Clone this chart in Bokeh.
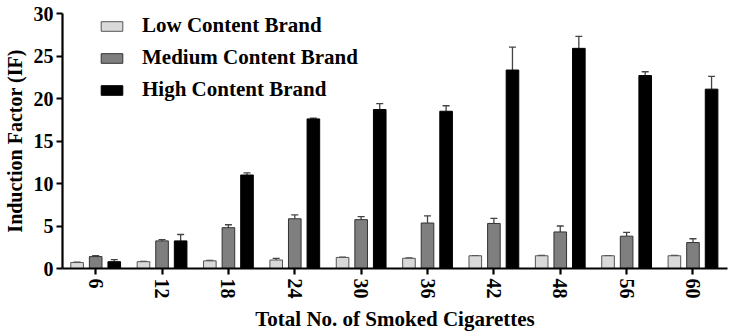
import numpy as np
from bokeh.plotting import figure
from bokeh.models import ColumnDataSource, Whisker, TeeHead, FixedTicker, Legend, LegendItem, Range1d
from bokeh.embed import file_html
from bokeh.resources import INLINE

categories = ["6", "12", "18", "24", "30", "36", "42", "48", "56", "60"]
low_vals = [0.7, 0.8, 0.9, 1.0, 1.3, 1.2, 1.5, 1.5, 1.5, 1.5]
low_err = [0.05, 0.05, 0.05, 0.2, 0.05, 0.05, 0.0, 0.05, 0.0, 0.05]
med_vals = [1.4, 3.25, 4.8, 5.85, 5.75, 5.35, 5.3, 4.3, 3.8, 3.05]
med_err = [0.1, 0.15, 0.35, 0.45, 0.35, 0.85, 0.6, 0.7, 0.45, 0.45]
high_vals = [0.8, 3.25, 11.0, 17.6, 18.7, 18.5, 23.35, 25.9, 22.7, 21.1]
high_err = [0.25, 0.75, 0.25, 0.1, 0.7, 0.65, 2.7, 1.4, 0.45, 1.5]

series = [
    ("Low Content Brand", low_vals, low_err, "#d9d9d9", "#555555", -0.28),
    ("Medium Content Brand", med_vals, med_err, "#7f7f7f", "#333333", 0.0),
    ("High Content Brand", high_vals, high_err, "#000000", "#000000", 0.28),
]

FONT = "Liberation Serif"

p = figure(width=733, height=333, output_backend="svg", toolbar_location=None,
           x_range=Range1d(-0.5, 9.52), y_range=Range1d(0, 30),
           min_border_left=62, min_border_right=6, min_border_top=13, min_border_bottom=64)
p.outline_line_color = None
p.grid.visible = False
p.background_fill_color = "white"

idx = np.arange(len(categories))
items = []
for name, vals, errs, fill, line, off in series:
    src = ColumnDataSource(dict(x=idx + off, top=vals, up=np.array(vals) + np.array(errs)))
    r = p.vbar(x="x", top="top", width=0.19, bottom=0, source=src,
               fill_color=fill, line_color=line, line_width=1)
    w = Whisker(base="x", lower="top", upper="up", source=src, dimension="height",
                line_color="#444444", line_width=1.3, lower_head=None,
                upper_head=TeeHead(size=7, line_color="#444444", line_width=1.3))
    p.add_layout(w)
    items.append(LegendItem(label=name, renderers=[r]))

legend = Legend(items=items, location=(36, 166), orientation="vertical",
                glyph_width=27, glyph_height=12, label_height=12, spacing=7,
                label_standoff=17, padding=0, margin=0,
                border_line_color=None, background_fill_alpha=0,
                label_text_font=FONT, label_text_font_style="bold",
                label_text_font_size="21px", label_text_color="black")
p.add_layout(legend, "center")

p.yaxis.ticker = FixedTicker(ticks=[0, 5, 10, 15, 20, 25, 30])
p.yaxis.axis_label = "Induction Factor (IF)"
p.xaxis.ticker = FixedTicker(ticks=list(range(len(categories))))
p.xaxis.major_label_overrides = {i: c for i, c in enumerate(categories)}
p.xaxis.major_label_orientation = "vertical"
p.xaxis.axis_label = "Total No. of Smoked Cigarettes"

for ax in (p.xaxis, p.yaxis):
    ax.axis_line_width = 2.2
    ax.axis_line_color = "black"
    ax.major_tick_line_width = 2.2
    ax.major_tick_line_color = "black"
    ax.major_tick_out = 6
    ax.major_tick_in = 0
    ax.minor_tick_line_color = None
    ax.major_label_text_font = FONT
    ax.major_label_text_font_style = "bold"
    ax.major_label_text_font_size = "20px"
    ax.major_label_text_color = "black"
    ax.axis_label_text_font = FONT
    ax.axis_label_text_font_style = "bold"
    ax.axis_label_text_font_size = "21px"
    ax.axis_label_text_color = "black"

p.yaxis.axis_label_text_font_size = "20px"
p.yaxis.major_label_standoff = 3
p.xaxis.major_label_standoff = 4
p.yaxis.axis_label_standoff = 5
p.xaxis.axis_label_standoff = 5

open("out.html", "w").write(file_html(p, INLINE))
